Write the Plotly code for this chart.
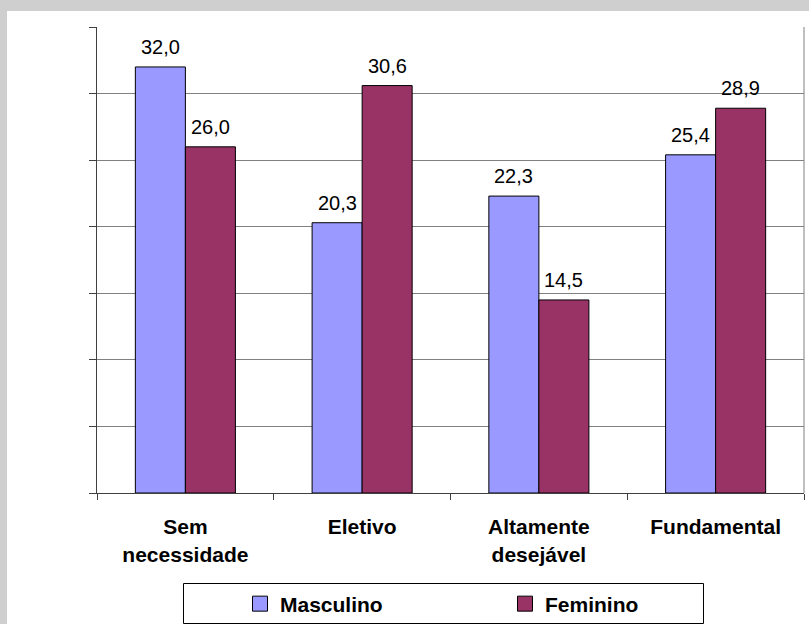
import plotly.graph_objects as go

categories = ["Sem<br>necessidade", "Eletivo", "Altamente<br>desejável", "Fundamental"]
masculino = [32.0, 20.3, 22.3, 25.4]
feminino = [26.0, 30.6, 14.5, 28.9]
series_names = ["Masculino", "Feminino"]
series_colors = ["#9999FF", "#993366"]
y_ticks = [0, 5, 10, 15, 20, 25, 30, 35]

W, H = 809, 624
L, R, T, B = 97, 5, 27, 131
pw, ph = W - L - R, H - T - B
BARGAP = 0.434
bar_px = pw / len(categories) * (1 - BARGAP) / 2

FONT = "Liberation Sans, Arial, sans-serif"

fig = go.Figure()
for name, vals, col in zip(series_names, [masculino, feminino], series_colors):
    fig.add_trace(go.Bar(
        x=categories, y=vals, name=name, showlegend=False,
        marker=dict(color=col, line=dict(color="black", width=1)),
    ))
    # legend-only entry with a larger square symbol
    fig.add_trace(go.Scatter(
        x=[None], y=[None], name=name, mode="markers",
        marker=dict(symbol="square", size=15, color=col, line=dict(color="black", width=1)),
    ))

annotations = []
for k, vals in enumerate([masculino, feminino]):
    shift = (k - 0.5) * bar_px
    for c, v in zip(categories, vals):
        annotations.append(dict(
            x=c, y=v, xref="x", yref="y", text=f"{v:.1f}".replace(".", ","),
            showarrow=False, xanchor="center", yanchor="bottom",
            xshift=shift, yshift=7,
            font=dict(family=FONT, size=20, color="black"),
        ))

def px_x(p):
    return (p - L) / pw

def px_y(p):
    return (H - B - p) / ph

shapes = [
    dict(type="rect", xref="paper", yref="paper", layer="below",
         x0=px_x(7), x1=px_x(820), y0=px_y(640), y1=px_y(11),
         fillcolor="white", line=dict(width=0)),
    dict(type="line", xref="paper", yref="paper", layer="below",
         x0=1, x1=1, y0=0, y1=1, line=dict(color="#808080", width=1)),
    dict(type="rect", xref="paper", yref="paper", layer="above",
         x0=px_x(183.5), x1=px_x(703.5), y0=px_y(623.5), y1=px_y(583.5),
         fillcolor="rgba(0,0,0,0)", line=dict(color="black", width=1)),
]

fig.update_layout(
    width=W, height=H,
    margin=dict(l=L, r=R, t=T, b=B, pad=0, autoexpand=False),
    paper_bgcolor="#CFCFCF", plot_bgcolor="white",
    barmode="group", bargap=BARGAP, bargroupgap=0,
    font=dict(family=FONT, size=20, color="black"),
    showlegend=True,
    legend=dict(orientation="h", x=px_x(240), y=px_y(604), xanchor="left", yanchor="middle",
                bgcolor="rgba(0,0,0,0)", borderwidth=0,
                entrywidth=220, entrywidthmode="pixels",
                font=dict(family=FONT, size=21, color="black", weight="bold")),
    shapes=shapes,
    annotations=annotations,
)
fig.update_xaxes(
    showline=True, linecolor="#404040", linewidth=1, automargin=False,
    ticks="outside", ticklen=6, tickcolor="#404040", tickson="boundaries",
    tickfont=dict(family=FONT, size=21, color="black", weight="bold"),
    showgrid=False, ticklabelstandoff=15,
)
fig.update_yaxes(
    range=[0, 35], tickvals=y_ticks, showticklabels=False, automargin=False,
    showline=True, linecolor="#404040", linewidth=1,
    ticks="outside", ticklen=7, tickcolor="#404040",
    showgrid=True, gridcolor="#808080", gridwidth=1, zeroline=False,
)

fig.write_html("out.html")
